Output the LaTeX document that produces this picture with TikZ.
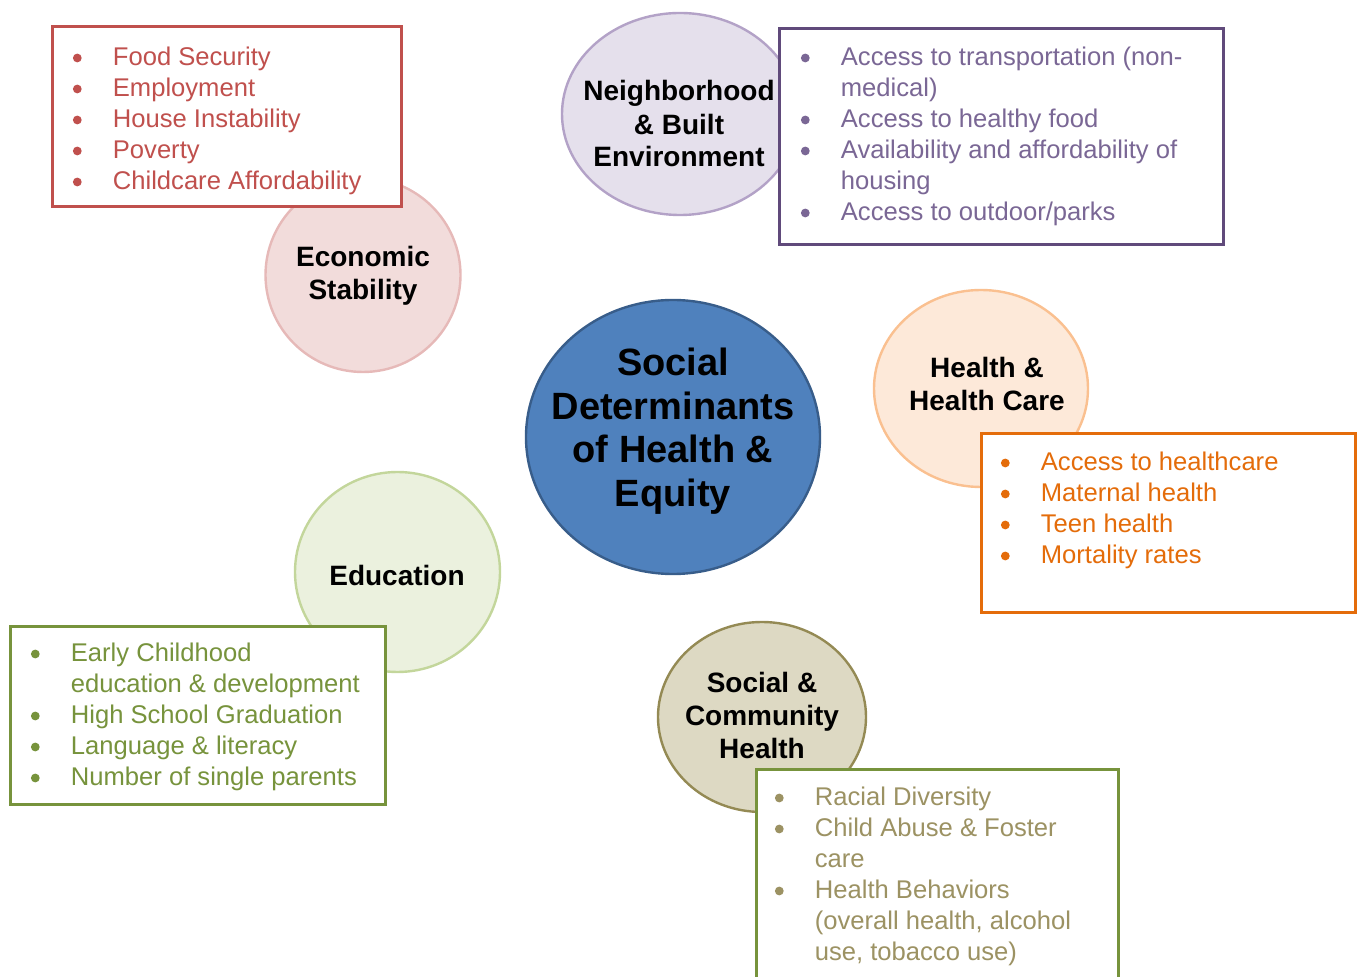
\documentclass[tikz,border=0pt]{standalone}
\usepackage{fontspec}
\setmainfont{Liberation Sans}
\usetikzlibrary{shapes.geometric}
\definecolor{EconFill}{HTML}{F2DCDB}
\definecolor{EconLine}{HTML}{E6B9B8}
\definecolor{EconRed}{HTML}{C0504D}
\definecolor{NbhdFill}{HTML}{E5E0EC}
\definecolor{NbhdLine}{HTML}{B3A2C7}
\definecolor{NbhdPurple}{HTML}{604A7B}
\definecolor{NbhdText}{HTML}{7A6795}
\definecolor{CoreFill}{HTML}{4F81BD}
\definecolor{CoreLine}{HTML}{385D8A}
\definecolor{CareFill}{HTML}{FDE9D9}
\definecolor{CareLine}{HTML}{FAC090}
\definecolor{CareOrange}{HTML}{E46C0A}
\definecolor{EduFill}{HTML}{EBF1DE}
\definecolor{EduLine}{HTML}{C3D69B}
\definecolor{EduGreen}{HTML}{77933C}
\definecolor{CommFill}{HTML}{DDD9C3}
\definecolor{CommLine}{HTML}{948A54}
\definecolor{CommText}{HTML}{9C9263}
\newcommand{\bulletlist}[1]{\begin{tabular}[t]{@{}p{20pt}@{}l@{}}#1\end{tabular}}
% round bullet dot in the current text colour
\newcommand{\bul}{\tikz[baseline=-4pt]\fill (0pt,0pt) circle (2.2pt); &}
\tikzset{
  ring/.style 2 args={ellipse,draw=#1,fill=#2,line width=1.2pt,inner sep=0pt},
  topic/.style={align=center,font=\fontsize{14}{16.5}\selectfont\bfseries,inner sep=0pt},
  coretopic/.style={align=center,font=\fontsize{19}{21.8}\selectfont\bfseries,inner sep=0pt},
  factorbox/.style={draw=#1,line width=1.5pt,fill=white,inner sep=0pt},
  itemlist/.style={anchor=base west,inner sep=0pt,text=#1,font=\fontsize{12.8}{15.5}\selectfont}
}

\begin{document}
\begin{tikzpicture}[x=0.5pt,y=-0.5pt]
  \useasboundingbox (0,0) rectangle (1361,977);

  % determinant circles
  \node[ring={EconLine}{EconFill},minimum width=97.5pt,minimum height=97pt] (econ) at (363,275) {};
  \node[ring={NbhdLine}{NbhdFill},minimum width=118pt,minimum height=101pt] (nbhd) at (680,114) {};
  \node[ring={CoreLine}{CoreFill},minimum width=147pt,minimum height=137pt] (core) at (673,437) {};
  \node[ring={CareLine}{CareFill},minimum width=107pt,minimum height=98.5pt] (care) at (981,388.5) {};
  \node[ring={EduLine}{EduFill},minimum width=102.5pt,minimum height=100pt] (edu) at (397.5,572) {};
  \node[ring={CommLine}{CommFill},minimum width=104pt,minimum height=95pt] (comm) at (762,717) {};

  \node[topic] (econ-label) at (363,276) {Economic\\Stability};
  \node[topic] (nbhd-label) at (679,124) {Neighborhood\\\& Built\\Environment};
  \node[coretopic] (core-label) at (673,431) {Social\\Determinants\\of Health \&\\Equity};
  \node[topic] (care-label) at (987,384) {Health \&\\Health Care};
  \node[topic] (edu-label) at (397,575) {Education};
  \node[topic] (comm-label) at (762,715) {Social \&\\Community\\Health};

  % factor boxes
  \node[factorbox=EconRed,minimum width=174.5pt,minimum height=90pt] (econ-box) at (226.5,117) {};
  \node[factorbox=NbhdPurple,minimum width=222pt,minimum height=108pt] (nbhd-box) at (1001,137) {};
  \node[factorbox=CareOrange,minimum width=187pt,minimum height=89.5pt] (care-box) at (1168,523.5) {};
  \node[factorbox=EduGreen,minimum width=187.5pt,minimum height=89pt] (edu-box) at (197.5,716) {};
  \node[factorbox=EduGreen,minimum width=181pt,minimum height=112.5pt] (comm-box) at (937,882.5) {};

  \node[itemlist=EconRed] (econ-items) at (72.5,66) {\bulletlist{%
    \bul Food Security\\
    \bul Employment\\
    \bul House Instability\\
    \bul Poverty\\
    \bul Childcare Affordability}};
  \node[itemlist=NbhdText] (nbhd-items) at (800.5,66) {\bulletlist{%
    \bul Access to transportation (non-\\
    & medical)\\
    \bul Access to healthy food\\
    \bul Availability and affordability of\\
    & housing\\
    \bul Access to outdoor/parks}};
  \node[itemlist=CareOrange] (care-items) at (1000.5,471) {\bulletlist{%
    \bul Access to healthcare\\
    \bul Maternal health\\
    \bul Teen health\\
    \bul Mortality rates}};
  \node[itemlist=EduGreen] (edu-items) at (30.5,662) {\bulletlist{%
    \bul Early Childhood\\
    & education \& development\\
    \bul High School Graduation\\
    \bul Language \& literacy\\
    \bul Number of single parents}};
  \node[itemlist=CommText] (comm-items) at (774.5,806) {\bulletlist{%
    \bul Racial Diversity\\
    \bul Child Abuse \& Foster\\
    & care\\
    \bul Health Behaviors\\
    & (overall health, alcohol\\
    & use, tobacco use)}};
\end{tikzpicture}
\end{document}
